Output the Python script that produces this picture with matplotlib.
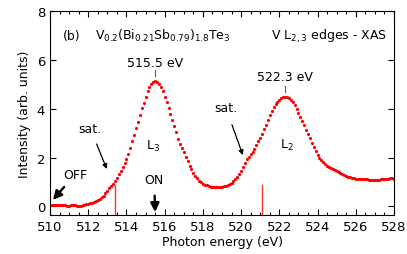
import numpy as np
import matplotlib
matplotlib.use('Agg')
from matplotlib import pyplot as plt
from matplotlib.ticker import MultipleLocator

# XAS spectrum, V L2,3 edges, sampled every 0.1 eV from 510 to 528 eV
energy = np.round(np.arange(510.0, 528.05, 0.1), 1)
intensity = [
    0.07, 0.06, 0.07, 0.06, 0.05, 0.06, 0.07, 0.05, 0.03, 0.01,   # 510.0-510.9
    0.02, 0.04, 0.04, 0.03, 0.01, 0.00, 0.02, 0.04, 0.06, 0.08,   # 511
    0.10, 0.12, 0.15, 0.18, 0.22, 0.26, 0.30, 0.36, 0.44, 0.54,   # 512
    0.63, 0.73, 0.83, 0.93, 1.03, 1.17, 1.31, 1.46, 1.60, 1.76,   # 513
    1.96, 2.16, 2.40, 2.66, 2.93, 3.20, 3.48, 3.76, 4.02, 4.25,   # 514
    4.50, 4.72, 4.90, 5.03, 5.11, 5.14, 5.12, 5.04, 4.90, 4.72,   # 515
    4.50, 4.28, 4.04, 3.80, 3.55, 3.30, 3.04, 2.78, 2.56, 2.40,   # 516
    2.22, 2.02, 1.84, 1.67, 1.52, 1.38, 1.25, 1.14, 1.05, 0.98,   # 517
    0.93, 0.89, 0.86, 0.83, 0.80, 0.78, 0.77, 0.77, 0.77, 0.78,   # 518
    0.80, 0.82, 0.85, 0.88, 0.92, 0.96, 1.02, 1.10, 1.20, 1.32,   # 519
    1.46, 1.62, 1.78, 1.92, 2.04, 2.14, 2.24, 2.36, 2.50, 2.66,   # 520
    2.82, 2.98, 3.16, 3.35, 3.55, 3.75, 3.93, 4.08, 4.20, 4.30,   # 521
    4.38, 4.44, 4.48, 4.49, 4.47, 4.43, 4.36, 4.27, 4.15, 4.00,   # 522
    3.84, 3.67, 3.50, 3.33, 3.15, 2.97, 2.79, 2.61, 2.44, 2.27,   # 523
    2.12, 1.98, 1.88, 1.80, 1.73, 1.67, 1.62, 1.57, 1.52, 1.47,   # 524
    1.43, 1.39, 1.35, 1.31, 1.27, 1.24, 1.21, 1.18, 1.16, 1.14,   # 525
    1.13, 1.12, 1.12, 1.11, 1.11, 1.10, 1.10, 1.09, 1.09, 1.08,   # 526
    1.08, 1.08, 1.09, 1.10, 1.10, 1.11, 1.12, 1.13, 1.14, 1.14,   # 527
    1.13,                                                         # 528
]

# photon energies used (red bars) and peak positions
used_energies = [513.4, 521.1]
used_top = 0.87
peaks = [515.5, 522.3]
peak_labels = ['515.5 eV', '522.3 eV']

plt.rcParams['font.family'] = 'DejaVu Sans'
plt.rcParams['font.size'] = 9
plt.rcParams['mathtext.fontset'] = 'dejavusans'

fig, ax = plt.subplots(figsize=(4.07, 2.55), dpi=100)
fig.subplots_adjust(left=0.123, right=0.968, top=0.951, bottom=0.154)

ax.plot(energy, intensity, 'o', color='#ff0000', ms=2.3, mec='none')

ymin = -0.35
for e in used_energies:
    ax.plot([e, e], [ymin, used_top], color='#ff3030', lw=1.0)

# peak markers and labels
ax.plot([peaks[0], peaks[0]], [5.33, 5.6], color='0.35', lw=0.8)
ax.plot([peaks[1], peaks[1]], [4.70, 4.93], color='0.35', lw=0.8)
ax.text(peaks[0], 5.9, peak_labels[0], ha='center', va='center')
ax.text(peaks[1], 5.33, peak_labels[1], ha='center', va='center')

ax.text(511.15, 7.02, '(b)', ha='center', va='center')
ax.text(512.35, 7.02, r'V$_{0.2}$(Bi$_{0.21}$Sb$_{0.79}$)$_{1.8}$Te$_3$',
        ha='left', va='center')
ax.text(527.65, 7.02, r'V L$_{2,3}$ edges - XAS', ha='right', va='center')

ax.text(515.4, 2.5, r'L$_3$', ha='center', va='center')
ax.text(522.4, 2.55, r'L$_2$', ha='center', va='center')

# satellite arrows
thin = dict(arrowstyle='-|>', color='black', lw=0.9, mutation_scale=7)
ax.annotate('sat.', xy=(512.97, 1.53), xytext=(512.1, 3.2),
            ha='center', va='center', arrowprops=dict(thin, shrinkA=5, shrinkB=0))
ax.annotate('sat.', xy=(520.09, 2.1), xytext=(519.2, 4.05),
            ha='center', va='center', arrowprops=dict(thin, shrinkA=6, shrinkB=0))

# OFF / ON arrows
thick = dict(arrowstyle='-|>', color='black', lw=1.7, mutation_scale=13)
ax.annotate('OFF', xy=(510.15, 0.26), xytext=(511.3, 1.3),
            ha='center', va='center', arrowprops=dict(thick, shrinkA=3, shrinkB=0))
ax.annotate('ON', xy=(515.5, -0.24), xytext=(515.45, 1.1),
            ha='center', va='center', arrowprops=dict(thick, shrinkA=5, shrinkB=0))

ax.set_xlim(510, 528)
ax.set_ylim(ymin, 8)
ax.xaxis.set_major_locator(MultipleLocator(2))
ax.xaxis.set_minor_locator(MultipleLocator(0.5))
ax.yaxis.set_major_locator(MultipleLocator(2))
ax.tick_params(which='both', direction='in', top=True, right=True, labelsize=9.5)
ax.tick_params(which='major', length=4, width=0.8)
ax.tick_params(which='minor', length=2.5, width=0.8)
ax.tick_params(axis='x', pad=4)

ax.set_xlabel('Photon energy (eV)', labelpad=1)
ax.set_ylabel('Intensity (arb. units)', labelpad=4)

fig.savefig('out.png', dpi=100)
